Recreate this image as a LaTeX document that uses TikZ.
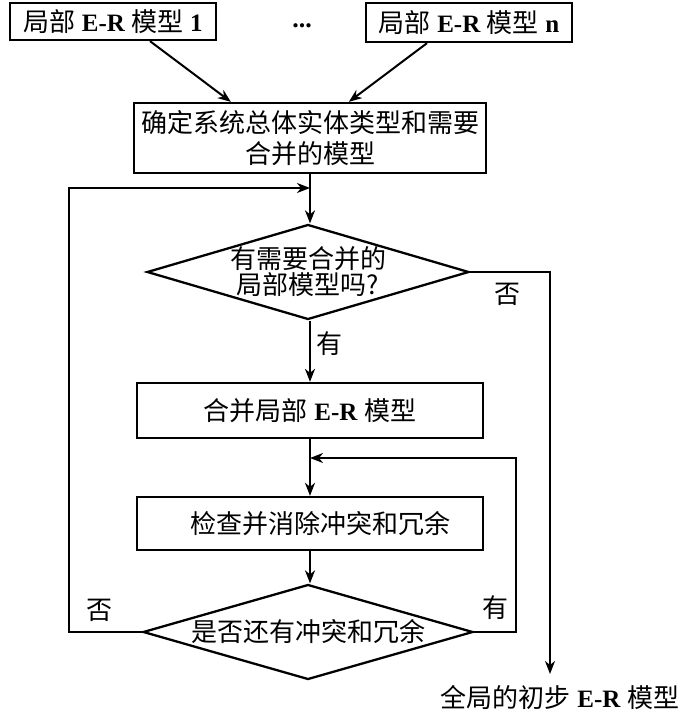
\documentclass[tikz,border=0pt]{standalone}
\usepackage{fontspec}
\setmainfont{Liberation Serif}
\newfontfamily\cjk{Noto Sans CJK SC}
\usetikzlibrary{shapes.geometric,arrows.meta,calc}
\newcommand\zh[1]{{\cjk #1}}
\newcommand\er[1]{{\fontsize{25}{25}\selectfont\bfseries #1}}
\begin{document}
\begin{tikzpicture}[x=1pt,y=-1pt,
  txt/.style={font=\fontsize{26}{33}\selectfont},
  box/.style={draw, line width=2.3pt, inner sep=0pt, txt, align=center},
  dia/.style={draw, diamond, line width=2.3pt, inner sep=0pt},
  arr/.style={line width=2pt, -{Stealth[length=13pt,width=10pt,inset=4pt]}},
  ln/.style={line width=2pt}]
\useasboundingbox (0,0) rectangle (683,711);
% top boxes
\node[box, minimum width=206pt, minimum height=37pt] (b1) at (113,21.5) {\zh{局部} \er{E-R} \zh{模型} \er{1}};
\node[box, minimum width=206pt, minimum height=39pt] (bn) at (469,22.5) {\zh{局部} \er{E-R} \zh{模型} \er{n}};
\node[txt] (dots) at (302,26) {\bfseries ...};
\node[box, minimum width=352pt, minimum height=70pt] (b2) at (310,138) {\zh{确定系统总体实体类型和需要}\\[-2pt]\zh{合并的模型}};
% first decision
\node[dia, minimum width=322pt, minimum height=95pt,
  label={[txt, align=center, font=\fontsize{26}{26}\selectfont]center:\zh{有需要合并的}\\\zh{局部模型吗?}}] (d1) at (308,272) {};
\node[box, minimum width=346pt, minimum height=55pt] (b3) at (310,410.5) {\zh{合并局部} \er{E-R} \zh{模型}};
\node[box, minimum width=346pt, minimum height=53pt] (b4) at (310,523.5) {\hspace*{20pt}\zh{检查并消除冲突和冗余}};
\node[dia, minimum width=330pt, minimum height=95pt,
  label={[txt]center:\zh{是否还有冲突和冗余}}] (d2) at (308,632) {};
\node[txt] (endt) at (560,697) {\zh{全局的初步} \er{E-R} \zh{模型}};
% labels
\node[txt] (lno1) at (507,294) {\zh{否}};
\node[txt] (lyes1) at (329,344) {\zh{有}};
\node[txt] (lyes2) at (495,608) {\zh{有}};
\node[txt] (lno2) at (99,610) {\zh{否}};
% helper coordinates
\coordinate (j1) at (310,188);
\coordinate (lft) at (69,188);
\coordinate (j2) at (310,458);
\coordinate (rl) at (516,458);
\coordinate (rt) at (550,272);
\coordinate (rtb) at (550,674);
% connectors
\draw[arr] ($(b1.south)+(37,0)$) -- ($(b2.north west)+(98,0)$);
\draw[arr] ($(bn.south)+(-42,0)$) -- ($(b2.north west)+(216,0)$);
\draw[arr] (b2.south -| j1) -- (d1.north -| j1);
\draw[arr] (d1.south -| j1) -- (b3.north);
\draw[arr] (b3.south) -- (b4.north);
\draw[arr] (b4.south -| j1) -- (d2.north -| j1);
\draw[arr] (d2.west) -| (lft) -- (j1);
\draw[arr] (d2.east) -| (rl) -- (j2);
\draw[arr] (d1.east) -- (rt) -- (rtb);
\end{tikzpicture}
\end{document}
